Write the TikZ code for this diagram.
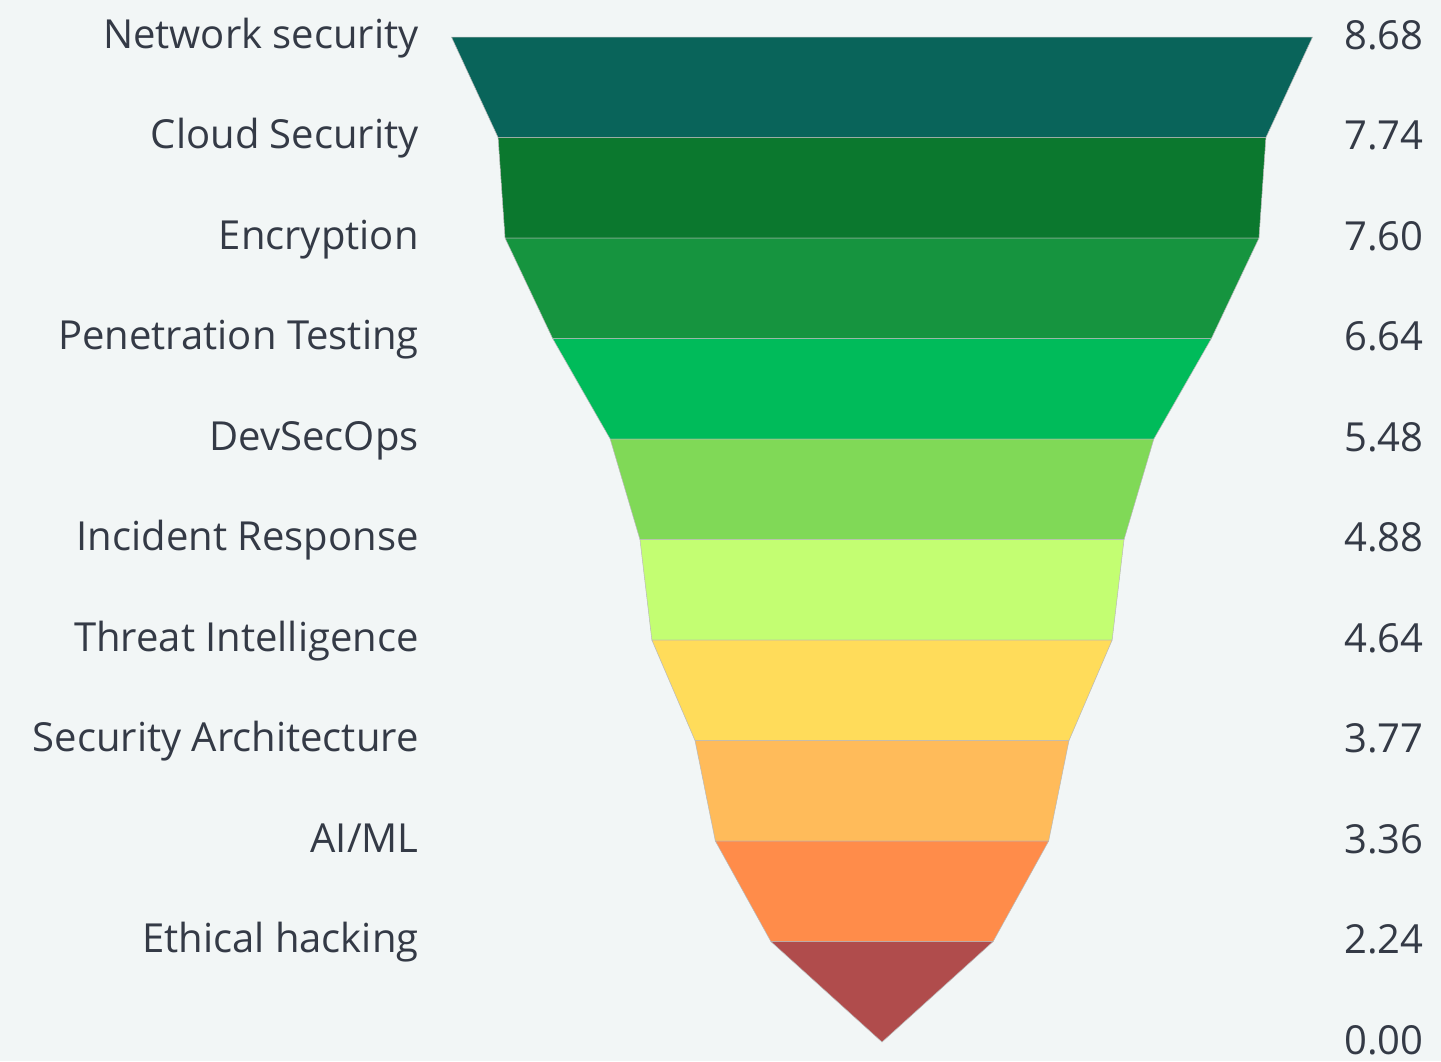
\documentclass[tikz,border=0pt]{standalone}
\usepackage{fontspec}
\setmainfont{Open Sans}
\definecolor{bgcol}{HTML}{F2F6F6}
\definecolor{txtcol}{HTML}{343A46}
\definecolor{band0}{HTML}{09645A}
\definecolor{band1}{HTML}{0B782E}
\definecolor{band2}{HTML}{16943F}
\definecolor{band3}{HTML}{00BB5A}
\definecolor{band4}{HTML}{80D957}
\definecolor{band5}{HTML}{C3FE72}
\definecolor{band6}{HTML}{FFDC5A}
\definecolor{band7}{HTML}{FFBB5A}
\definecolor{band8}{HTML}{FF8C4A}
\definecolor{band9}{HTML}{B04C4C}
\tikzset{
  lbl/.style={text=txtcol, font=\fontsize{20}{24}\selectfont, inner sep=0pt, anchor=base east},
  val/.style={text=txtcol, font=\fontsize{20}{24}\selectfont, inner sep=0pt, anchor=base west},
  band/.style={draw=gray!55, line width=0.25pt}
}
\begin{document}
\begin{tikzpicture}[x=0.5pt,y=-0.5pt]
  \fill[bgcol] (0,0) rectangle (1441,1061);
  \useasboundingbox (0,0) rectangle (1441,1061);
  % funnel bands, half width = 49.6 per unit
  \foreach \i/\a/\b in {0/8.68/7.74, 1/7.74/7.60, 2/7.60/6.64, 3/6.64/5.48, 4/5.48/4.88,
                        5/4.88/4.64, 6/4.64/3.77, 7/3.77/3.36, 8/3.36/2.24, 9/2.24/0}
    \filldraw[band, fill=band\i] ({882-49.6*\a},{37+100.5*\i}) -- ({882+49.6*\a},{37+100.5*\i})
      -- ({882+49.6*\b},{137.5+100.5*\i}) -- ({882-49.6*\b},{137.5+100.5*\i}) -- cycle;
  % labels and values
  \foreach \i/\t/\v in {0/Network security/8.68, 1/Cloud Security/7.74, 2/Encryption/7.60,
                        3/Penetration Testing/6.64, 4/DevSecOps/5.48, 5/Incident Response/4.88,
                        6/Threat Intelligence/4.64, 7/Security Architecture/3.77, 8/AI\slash ML/3.36,
                        9/Ethical hacking/2.24} {
    \node[lbl] (l\i) at (419,{48+100.5*\i}) {\t};
    \node[val] (v\i) at (1344,{49+100.5*\i}) {\v};
  }
  \node[val] (v10) at (1344,1054) {0.00};
\end{tikzpicture}
\end{document}
